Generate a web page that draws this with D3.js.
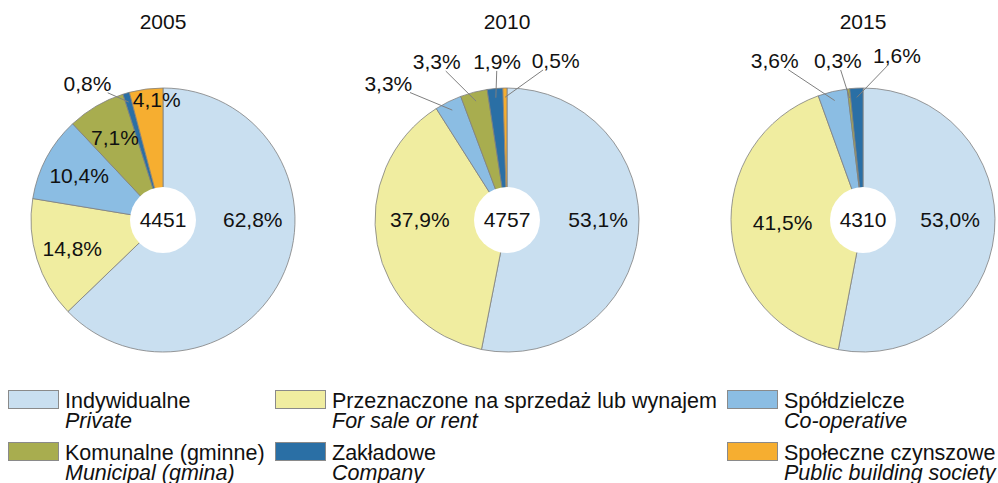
<!DOCTYPE html>
<html>
<head>
<meta charset="utf-8">
<script src="https://cdn.jsdelivr.net/npm/d3@7"></script>
<style>
  body { margin: 0; background: #fff; }
  text { font-family: "Liberation Sans", Arial, sans-serif; fill: #111; }
</style>
</head>
<body>
<div id="chart"></div>
<script>
// categories (Polish / English)
var categoriesPl = ["Indywidualne", "Przeznaczone na sprzedaż lub wynajem", "Spółdzielcze",
                    "Komunalne (gminne)", "Zakładowe", "Społeczne czynszowe"];
var categoriesEn = ["Private", "For sale or rent", "Co-operative",
                    "Municipal (gmina)", "Company", "Public building society"];
var years = ["2005", "2010", "2015"];
var totals = [4451, 4757, 4310];
// shares in %, same order as categories
var shares2005 = [62.8, 14.8, 10.4, 7.1, 0.8, 4.1];
var shares2010 = [53.1, 37.9, 3.3, 3.3, 1.9, 0.5];
var shares2015 = [53.0, 41.5, 3.6, 0.3, 1.6, 0];
var colors = ["#c9dff0", "#f0eda0", "#8bbde3", "#a8ad4f", "#2a6fa5", "#f6ae30"];

var width = 998, height = 483;
var centersX = [163, 507, 863], centerY = 220;
var R = 132, holeR = 33;
var pieFont = "21px", legendFont = "21.5px";

// label placement: angle (deg, clockwise from top) and radius as fraction of R
// inside labels default to the slice centroid; outside ones get a leader line
var labelPlace = {
  "2005": { 0: { a: 90, r: 0.68 }, 4: { a: 331, r: 1.18, out: true }, 5: { a: 357, r: 0.91 } },
  "2010": { 0: { a: 90, r: 0.69 }, 1: { a: 270, r: 0.66 },
            2: { a: 319, r: 1.37, out: true }, 3: { a: 336, r: 1.31, out: true },
            4: { a: 356.4, r: 1.2, out: true }, 5: { a: 17, r: 1.26, out: true } },
  "2015": { 0: { a: 90, r: 0.66 }, 1: { a: 268, r: 0.61 },
            2: { a: 331, r: 1.38, out: true }, 3: { a: 351, r: 1.22, out: true },
            4: { a: 11.7, r: 1.27, out: true } }
};

var svg = d3.select("#chart").append("svg")
    .attr("width", width)
    .attr("height", height);

var pie = d3.pie().sort(null).value(function (d) { return d; });
var arc = d3.arc().innerRadius(0).outerRadius(R);
var fmt = function (v) { return d3.format(".1f")(v).replace(".", ",") + "%"; };

function polar(aDeg, r) {
  var a = aDeg * Math.PI / 180;
  return [r * Math.sin(a), -r * Math.cos(a)];
}

[shares2005, shares2010, shares2015].forEach(function (shares, yi) {
  var g = svg.append("g")
      .attr("transform", "translate(" + centersX[yi] + "," + centerY + ")");

  g.append("text")
      .attr("x", 0)
      .attr("y", 29 - centerY)
      .attr("text-anchor", "middle")
      .style("font-size", pieFont)
      .text(years[yi]);

  var arcs = pie(shares);

  g.selectAll("path.slice")
      .data(arcs.filter(function (d) { return d.value > 0; }))
      .enter().append("path")
      .attr("class", "slice")
      .attr("d", arc)
      .attr("fill", function (d) { return colors[d.index]; })
      .attr("stroke", "#7f7f7f")
      .attr("stroke-width", 0.8);

  g.append("circle")
      .attr("r", holeR)
      .attr("fill", "#fff");

  g.append("text")
      .attr("dy", "0.35em")
      .attr("text-anchor", "middle")
      .style("font-size", pieFont)
      .text(totals[yi]);

  var place = labelPlace[years[yi]];
  arcs.forEach(function (d) {
    if (d.value <= 0) return;
    var p = place[d.index];
    var pos;
    if (p) pos = polar(p.a, p.r * R);
    else pos = d3.arc().innerRadius(0).outerRadius(R * 1.44).centroid(d);

    var t = g.append("text")
        .attr("x", pos[0])
        .attr("y", pos[1])
        .attr("dy", "0.35em")
        .attr("text-anchor", "middle")
        .style("font-size", pieFont)
        .text(fmt(d.value));

    if (p && p.out) {
      var mid = (d.startAngle + d.endAngle) / 2 * 180 / Math.PI;
      var end = polar(mid, R * 0.93);
      var bb = t.node().getBBox();
      var hw = bb.width / 2 + 1, hh = 9;
      var vx = end[0] - pos[0], vy = end[1] - pos[1];
      var s = Math.min(Math.abs(vx) > 0 ? hw / Math.abs(vx) : 1e9,
                       Math.abs(vy) > 0 ? hh / Math.abs(vy) : 1e9);
      g.append("line")
          .attr("x1", pos[0] + vx * s)
          .attr("y1", pos[1] + vy * s)
          .attr("x2", end[0])
          .attr("y2", end[1])
          .attr("stroke", "#7f7f7f")
          .attr("stroke-width", 1);
    }
  });
});

// legend
var legendCols = [8, 275, 727], legendRows = [390, 442];
var legend = svg.append("g");
categoriesPl.forEach(function (name, i) {
  var x = legendCols[i % 3], y = legendRows[Math.floor(i / 3)];
  legend.append("rect")
      .attr("x", x + 0.5)
      .attr("y", y + 0.5)
      .attr("width", 50)
      .attr("height", 18)
      .attr("fill", colors[i])
      .attr("stroke", "#8a8a8a")
      .attr("stroke-width", 1);
  legend.append("text")
      .attr("x", x + 57)
      .attr("y", y + 18)
      .style("font-size", legendFont)
      .text(name);
  legend.append("text")
      .attr("x", x + 57)
      .attr("y", y + 38)
      .style("font-size", legendFont)
      .style("font-style", "italic")
      .text(categoriesEn[i]);
});
</script>
</body>
</html>
